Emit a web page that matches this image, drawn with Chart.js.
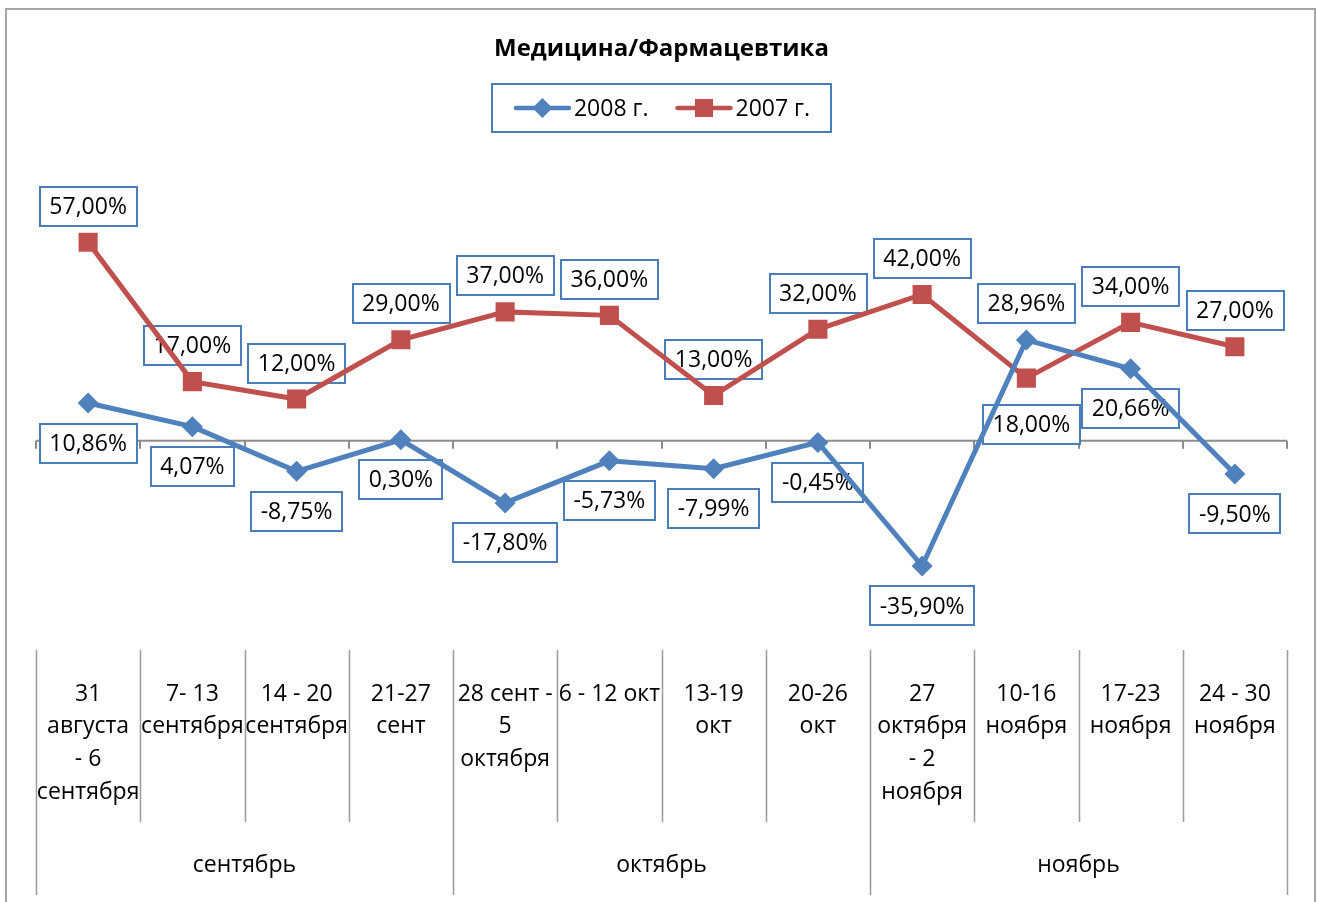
<!DOCTYPE html>
<html lang="ru">
<head>
<meta charset="utf-8">
<title>Медицина/Фармацевтика</title>
<script src="https://cdn.jsdelivr.net/npm/chart.js@4.4.1/dist/chart.umd.min.js"></script>
<style>
  html, body { margin: 0; padding: 0; background: #fff; }
</style>
</head>
<body>
<canvas id="grafico" width="1317" height="902"></canvas>
<script>
// данные графика
const weekLabels = [
  ['31', 'августа', '- 6', 'сентября'],
  ['7- 13', 'сентября'],
  ['14 - 20', 'сентября'],
  ['21-27', 'сент'],
  ['28 сент -', '5', 'октября'],
  ['6 - 12 окт'],
  ['13-19', 'окт'],
  ['20-26', 'окт'],
  ['27', 'октября', '- 2', 'ноября'],
  ['10-16', 'ноября'],
  ['17-23', 'ноября'],
  ['24 - 30', 'ноября']
];
const monthLabels = ['сентябрь', 'октябрь', 'ноябрь'];
const weeksPerMonth = [4, 4, 4];

const seriesNames = ['2008 г.', '2007 г.'];
const values2008 = [10.86, 4.07, -8.75, 0.30, -17.80, -5.73, -7.99, -0.45, -35.90, 28.96, 20.66, -9.50];
const values2007 = [57.00, 17.00, 12.00, 29.00, 37.00, 36.00, 13.00, 32.00, 42.00, 18.00, 34.00, 27.00];

// где стоит подпись значения относительно точки
const labelSide2008 = ['below', 'below', 'below', 'below', 'below', 'below', 'below', 'below', 'below', 'above', 'below', 'below'];
const labelSide2007 = ['above', 'above', 'above', 'above', 'above', 'above', 'above', 'above', 'above', 'below', 'above', 'above'];

const yMin = -60;
const yMax = 80;

const BLUE = '#4f81bd';
const RED = '#c0504d';
const BOX = '#4a7ebb';
const GREY = '#8c8c8c';
const FONT = '"Open Sans", "DejaVu Sans", sans-serif';

function fmt(v) {
  return v.toFixed(2).replace('.', ',') + '%';
}

function drawMarker(ctx, style, x, y, color) {
  ctx.fillStyle = color;
  ctx.beginPath();
  if (style === 'rectRot') {
    ctx.moveTo(x, y - 10);
    ctx.lineTo(x + 10, y);
    ctx.lineTo(x, y + 10);
    ctx.lineTo(x - 10, y);
  } else {
    ctx.rect(x - 9, y - 9, 18, 18);
  }
  ctx.closePath();
  ctx.fill();
}

const excelLook = {
  id: 'excelLook',
  beforeDraw(chart) {
    const ctx = chart.ctx;
    ctx.save();
    ctx.fillStyle = '#fff';
    ctx.fillRect(0, 0, chart.width, chart.height);
    ctx.strokeStyle = '#a6a6a6';
    ctx.lineWidth = 2;
    ctx.strokeRect(6, 9, 1309, 910);
    ctx.restore();
  },
  beforeDatasetsDraw(chart) {
    const ctx = chart.ctx;
    const xs = chart.scales.x;
    const ys = chart.scales.y;
    const area = chart.chartArea;
    const n = weekLabels.length;
    const step = (xs.right - xs.left) / n;
    const zeroY = ys.getPixelForValue(0);

    ctx.save();
    // нулевая линия с засечками
    ctx.strokeStyle = GREY;
    ctx.lineWidth = 2;
    ctx.beginPath();
    ctx.moveTo(xs.left, zeroY);
    ctx.lineTo(xs.right, zeroY);
    for (let k = 0; k <= n; k++) {
      const bx = Math.round(xs.left + k * step);
      ctx.moveTo(bx, zeroY);
      ctx.lineTo(bx, zeroY + 8);
    }
    ctx.stroke();

    // разделители категорий внизу
    const groupEnds = [0];
    weeksPerMonth.forEach(w => groupEnds.push(groupEnds[groupEnds.length - 1] + w));
    ctx.lineWidth = 1.5;
    ctx.strokeStyle = '#9a9a9a';
    ctx.beginPath();
    for (let k = 0; k <= n; k++) {
      const bx = Math.round(xs.left + k * step) + 0.5;
      const isGroup = groupEnds.includes(k);
      ctx.moveTo(bx, area.bottom);
      ctx.lineTo(bx, isGroup ? area.bottom + 245 : area.bottom + 172);
    }
    ctx.stroke();

    // подписи недель
    ctx.fillStyle = '#000';
    ctx.font = '23px ' + FONT;
    ctx.textAlign = 'center';
    ctx.textBaseline = 'middle';
    weekLabels.forEach((lines, i) => {
      const cx = xs.getPixelForValue(i);
      lines.forEach((t, j) => ctx.fillText(t, cx, area.bottom + 44 + j * 32.7));
    });
    // подписи месяцев
    monthLabels.forEach((m, g) => {
      const cx = xs.left + (groupEnds[g] + groupEnds[g + 1]) / 2 * step;
      ctx.fillText(m, cx, area.bottom + 215);
    });

    // легенда
    const items = chart.data.datasets.map(ds => ({
      text: ds.label, color: ds.borderColor, style: ds.pointStyle,
      w: 57 + 4 + ctx.measureText(ds.label).width
    }));
    const gap = 26;
    const contentW = items.reduce((s, it) => s + it.w, 0) + gap * (items.length - 1);
    const boxW = contentW + 42;
    const lcx = (area.left + area.right) / 2;
    const boxL = lcx - boxW / 2;
    ctx.strokeStyle = BOX;
    ctx.lineWidth = 2;
    ctx.strokeRect(Math.round(boxL), 84, Math.round(boxW), 48);
    let lx = boxL + 22;
    items.forEach(it => {
      ctx.strokeStyle = it.color;
      ctx.lineWidth = 4.5;
      ctx.lineCap = 'round';
      ctx.beginPath();
      ctx.moveTo(lx + 2, 108);
      ctx.lineTo(lx + 55, 108);
      ctx.stroke();
      drawMarker(ctx, it.style, lx + 28.5, 108, it.color);
      ctx.fillStyle = '#000';
      ctx.textAlign = 'left';
      ctx.fillText(it.text, lx + 60, 109);
      lx += it.w + gap;
    });

    // подписи значений в рамках
    const sides = [labelSide2008, labelSide2007];
    ctx.textAlign = 'center';
    chart.data.datasets.forEach((ds, d) => {
      const meta = chart.getDatasetMeta(d);
      meta.data.forEach((pt, i) => {
        const text = fmt(ds.data[i]);
        const tw = ctx.measureText(text).width;
        const bw = tw + 19;
        const bh = 39;
        const below = sides[d][i] === 'below';
        const cy = pt.y + (below ? (d === 1 ? 46 : 40) : -36);
        const cx = pt.x + (below && d === 1 ? 5 : 0);
        ctx.fillStyle = '#fff';
        ctx.fillRect(cx - bw / 2, cy - bh / 2, bw, bh);
        ctx.strokeStyle = BOX;
        ctx.lineWidth = 2;
        ctx.strokeRect(Math.round(cx - bw / 2), Math.round(cy - bh / 2), Math.round(bw), bh);
        ctx.fillStyle = '#000';
        ctx.fillText(text, cx, cy + 1);
      });
    });
    ctx.restore();
  }
};

new Chart(document.getElementById('grafico'), {
  type: 'line',
  data: {
    labels: weekLabels.map(l => l.join(' ')),
    datasets: [
      {
        label: seriesNames[0],
        data: values2008,
        borderColor: BLUE,
        backgroundColor: BLUE,
        borderWidth: 5,
        pointStyle: 'rectRot',
        pointRadius: 10.5,
        pointBorderWidth: 0,
        tension: 0
      },
      {
        label: seriesNames[1],
        data: values2007,
        borderColor: RED,
        backgroundColor: RED,
        borderWidth: 5,
        pointStyle: 'rect',
        pointRadius: 13.5,
        pointBorderWidth: 0,
        tension: 0
      }
    ]
  },
  options: {
    responsive: false,
    animation: false,
    layout: { padding: { top: 0, left: 36, right: 30, bottom: 252 } },
    scales: {
      x: { type: 'category', offset: true, display: false },
      y: { min: yMin, max: yMax, display: false }
    },
    plugins: {
      legend: { display: false },
      tooltip: { enabled: false },
      title: {
        display: true,
        text: 'Медицина/Фармацевтика',
        color: '#000',
        font: { family: FONT, size: 24, weight: 'bold' },
        padding: { top: 35, bottom: 98.2 }
      }
    }
  },
  plugins: [excelLook]
});
</script>
</body>
</html>
